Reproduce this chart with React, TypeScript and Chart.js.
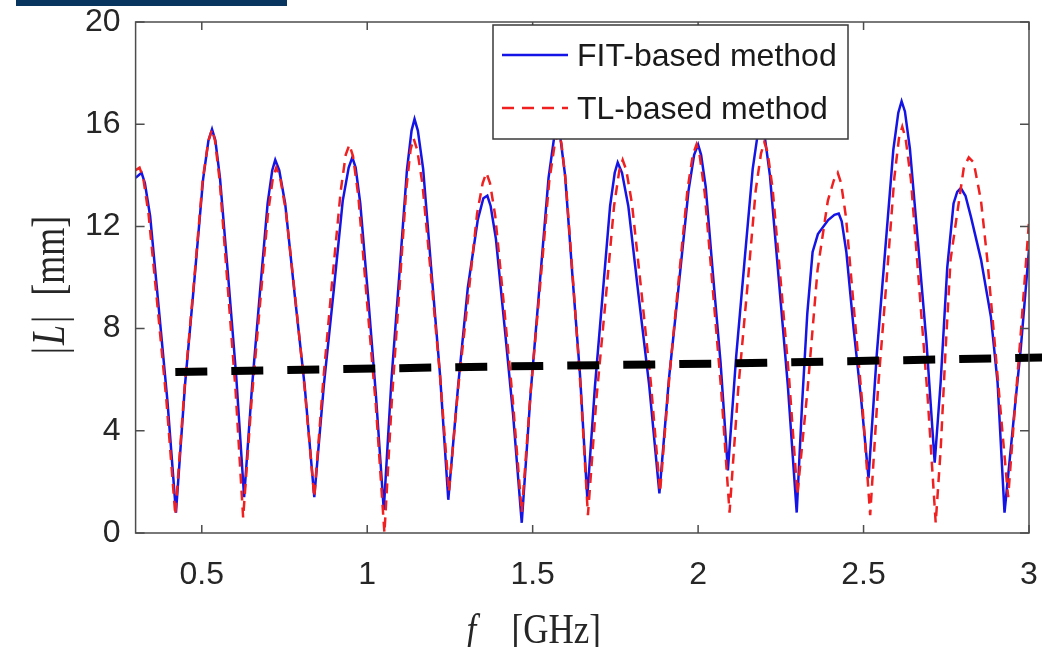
import React, { useEffect, useRef } from "react";
import { Chart, registerables } from "chart.js";

Chart.register(...registerables);

// ---------- data ----------
const fitFreq = [
  0.300, 0.318, 0.328, 0.344, 0.370, 0.396, 0.422, 0.449, 0.477, 0.504, 0.520, 0.531,
  0.541, 0.555, 0.580, 0.604, 0.628, 0.652, 0.675, 0.699, 0.713, 0.722,
  0.734, 0.752, 0.781, 0.811, 0.840, 0.869, 0.898, 0.926, 0.944, 0.955,
  0.965, 0.979, 1.003, 1.026, 1.050, 1.073, 1.097, 1.120, 1.134, 1.143,
  1.153, 1.169, 1.194, 1.220, 1.245, 1.275, 1.304, 1.334, 1.351, 1.363,
  1.373, 1.389, 1.415, 1.441, 1.467, 1.494, 1.521, 1.548, 1.564, 1.575,
  1.584, 1.598, 1.620, 1.643, 1.665, 1.688, 1.711, 1.734, 1.748, 1.757,
  1.770, 1.789, 1.820, 1.852, 1.883, 1.912, 1.942, 1.971, 1.988, 2.000,
  2.009, 2.023, 2.045, 2.068, 2.090, 2.115, 2.140, 2.165, 2.180, 2.190,
  2.201, 2.217, 2.244, 2.271, 2.298, 2.314, 2.330, 2.346, 2.362, 2.393, 2.412, 2.425,
  2.434, 2.448, 2.470, 2.493, 2.515, 2.540, 2.565, 2.590, 2.605, 2.615,
  2.625, 2.640, 2.665, 2.690, 2.715, 2.733, 2.753, 2.772, 2.783, 2.794,
  2.808, 2.824, 2.855, 2.885, 2.905, 2.926, 2.954, 2.975, 3.000,
];
const fitL = [
  13.9, 14.1, 13.7, 12.4, 8.8, 5.2, 0.8, 5.75, 9.8, 13.85, 15.35, 15.8,
  15.37, 13.9, 10.0, 6.15, 1.4, 5.75, 9.3, 12.9, 14.2, 14.6,
  14.2, 12.9, 9.3, 5.75, 1.4, 5.8, 9.4, 13.0, 14.3, 14.7,
  14.3, 12.9, 9.2, 5.45, 0.9, 5.95, 10.1, 14.2, 15.75, 16.2,
  15.75, 14.25, 10.25, 6.2, 1.3, 5.8, 9.6, 12.25, 13.1, 13.2,
  12.8, 11.5, 8.1, 4.6, 0.4, 5.5, 9.7, 13.9, 15.4, 15.9,
  15.45, 14.0, 10.1, 6.2, 1.4, 5.7, 9.25, 12.8, 14.1, 14.5,
  14.1, 12.8, 9.3, 5.8, 1.55, 6.05, 9.75, 13.4, 14.8, 15.2,
  14.8, 13.55, 10.1, 6.65, 2.45, 6.9, 10.6, 14.25, 15.6, 16.0,
  15.55, 14.0, 9.9, 5.8, 0.8, 5.0, 8.6, 11.0, 11.7, 12.25, 12.45, 12.5,
  12.2, 11.0, 8.0, 5.2, 2.15, 7.0, 11.0, 15.0, 16.45, 16.9,
  16.5, 15.05, 11.3, 7.5, 2.75, 5.9, 10.4, 12.9, 13.35, 13.5,
  13.2, 12.4, 10.7, 8.45, 5.9, 0.8, 4.5, 7.2, 11.1,
];

const tlFreq = [
  0.300, 0.312, 0.323, 0.339, 0.366, 0.393, 0.420, 0.448, 0.476, 0.503, 0.520, 0.531,
  0.540, 0.554, 0.578, 0.602, 0.625, 0.650, 0.675, 0.700, 0.715, 0.725,
  0.737, 0.754, 0.783, 0.811, 0.840, 0.867, 0.893, 0.920, 0.935, 0.946,
  0.957, 0.973, 0.999, 1.026, 1.052, 1.074, 1.096, 1.118, 1.131, 1.140,
  1.151, 1.167, 1.194, 1.220, 1.247, 1.275, 1.304, 1.332, 1.349, 1.360,
  1.371, 1.387, 1.414, 1.440, 1.467, 1.495, 1.523, 1.550, 1.567, 1.578,
  1.587, 1.600, 1.623, 1.645, 1.667, 1.693, 1.720, 1.746, 1.762, 1.772,
  1.783, 1.800, 1.829, 1.857, 1.885, 1.913, 1.940, 1.968, 1.984, 1.995,
  2.005, 2.020, 2.045, 2.070, 2.095, 2.121, 2.148, 2.174, 2.190, 2.200,
  2.210, 2.225, 2.250, 2.275, 2.300, 2.331, 2.361, 2.392, 2.410, 2.422,
  2.432, 2.447, 2.471, 2.496, 2.520, 2.544, 2.569, 2.593, 2.607, 2.617,
  2.627, 2.643, 2.668, 2.693, 2.718, 2.733, 2.748, 2.763, 2.784, 2.803, 2.818,
  2.833, 2.855, 2.874, 2.894, 2.916, 2.937, 2.955, 2.975, 3.000,
];
const tlL = [
  14.2, 14.3, 13.9, 12.5, 8.9, 5.2, 0.7, 5.7, 9.75, 13.85, 15.35, 15.8,
  15.35, 13.8, 9.7, 5.6, 0.6, 5.1, 8.8, 12.5, 13.9, 14.3,
  13.9, 12.6, 9.15, 5.65, 1.4, 5.95, 9.7, 13.4, 14.8, 15.2,
  14.75, 13.2, 9.1, 5.0, 0.0, 5.1, 9.3, 13.45, 15.0, 15.45,
  15.0, 13.65, 9.9, 6.15, 1.6, 5.7, 9.1, 12.5, 13.7, 14.1,
  13.7, 12.4, 8.8, 5.2, 0.8, 5.7, 9.75, 13.75, 15.25, 15.7,
  15.25, 13.75, 9.7, 5.65, 0.7, 5.3, 9.05, 12.8, 14.2, 14.6,
  14.2, 12.9, 9.4, 5.9, 1.6, 6.1, 9.75, 13.45, 14.8, 15.2,
  14.75, 13.3, 9.45, 5.55, 0.8, 5.6, 9.5, 13.4, 14.85, 15.3,
  14.9, 13.5, 9.8, 6.05, 1.5, 5.65, 10.3, 13.0, 13.8, 14.1,
  13.7, 12.35, 8.75, 5.1, 0.7, 5.7, 9.8, 13.9, 15.45, 15.9,
  15.45, 13.85, 9.65, 5.45, 0.4, 3.25, 7.2, 10.7, 12.6, 14.3, 14.7,
  14.5, 13.0, 10.7, 7.8, 4.5, 1.4, 4.5, 7.8, 12.2,
];

const refFreq = [0.42, 1.31, 2.16, 3.04];
const refL = [6.3, 6.5, 6.65, 6.87];

const xTicks = [0.5, 1, 1.5, 2, 2.5, 3];
const yTicks = [0, 4, 8, 12, 16, 20];
const seriesNames = ["FIT-based method", "TL-based method"];
const xTitleParts = ["f", "[GHz]"];
const yTitleParts = ["|", "L", "|", "[mm]"];

const BLUE = "#1414e6";
const RED = "#f02020";
const SANS = "'Liberation Sans', Arial, sans-serif";
const SERIF = "'Liberation Serif', 'DejaVu Serif', serif";

const toPts = (xs: number[], ys: number[]) => xs.map((x, i) => ({ x, y: ys[i] }));

const zeroPad = (axis: any) => {
  axis.paddingLeft = 0;
  axis.paddingRight = 0;
  axis.paddingTop = 0;
  axis.paddingBottom = 0;
};

const decorPlugin = {
  id: "decor",
  afterDatasetsDraw(chart: any) {
    const { ctx, chartArea: ca, scales } = chart;
    const xs = scales.x;
    const ys = scales.y;
    ctx.save();
    // frame
    ctx.strokeStyle = "#4d4d4d";
    ctx.lineWidth = 1.5;
    ctx.strokeRect(ca.left, ca.top, ca.right - ca.left, ca.bottom - ca.top);
    // inward ticks on all sides
    ctx.beginPath();
    for (const v of xTicks) {
      const px = xs.getPixelForValue(v);
      ctx.moveTo(px, ca.bottom);
      ctx.lineTo(px, ca.bottom - 8);
      ctx.moveTo(px, ca.top);
      ctx.lineTo(px, ca.top + 8);
    }
    for (const v of yTicks) {
      const py = ys.getPixelForValue(v);
      ctx.moveTo(ca.left, py);
      ctx.lineTo(ca.left + 9, py);
      ctx.moveTo(ca.right, py);
      ctx.lineTo(ca.right - 9, py);
    }
    ctx.stroke();

    // legend
    const lx = ca.right - 536;
    const ly = ca.top + 3;
    const lw = 355;
    const lh = 114;
    ctx.fillStyle = "#ffffff";
    ctx.fillRect(lx, ly, lw, lh);
    ctx.strokeStyle = "#3a3a3a";
    ctx.lineWidth = 1.5;
    ctx.strokeRect(lx, ly, lw, lh);
    const rows = [ly + 30, ly + 83];
    const colors = [BLUE, RED];
    for (let i = 0; i < 2; i++) {
      ctx.beginPath();
      ctx.strokeStyle = colors[i];
      ctx.lineWidth = 2.5;
      ctx.setLineDash(i === 1 ? [12, 8] : []);
      ctx.moveTo(lx + 9, rows[i]);
      ctx.lineTo(lx + 75, rows[i]);
      ctx.stroke();
      ctx.setLineDash([]);
      ctx.fillStyle = "#1a1a1a";
      ctx.font = `32px ${SANS}`;
      ctx.textBaseline = "middle";
      ctx.textAlign = "left";
      ctx.fillText(seriesNames[i], lx + 84, rows[i] + 2);
    }

    // x title: italic f + [GHz]
    ctx.fillStyle = "#262626";
    ctx.textBaseline = "alphabetic";
    ctx.textAlign = "left";
    ctx.save();
    ctx.translate(ca.left, 643);
    ctx.scale(1, 1.2);
    ctx.font = `italic 35px ${SERIF}`;
    ctx.fillText(xTitleParts[0], 331, 0);
    ctx.font = `35px ${SERIF}`;
    ctx.fillText(xTitleParts[1], 376, 0);
    ctx.restore();

    // y title: |L| [mm], rotated
    const yc = 285;
    ctx.save();
    ctx.translate(64, yc);
    ctx.rotate(-Math.PI / 2);
    ctx.scale(1, 1.3);
    const fonts = [`36px ${SERIF}`, `italic 36px ${SERIF}`, `36px ${SERIF}`, `36px ${SERIF}`];
    const gaps = [2, 2, 20, 0];
    let total = 0;
    const widths: number[] = [];
    for (let i = 0; i < yTitleParts.length; i++) {
      ctx.font = fonts[i];
      const w = ctx.measureText(yTitleParts[i]).width;
      widths.push(w);
      total += w + gaps[i];
    }
    let cx = -total / 2;
    for (let i = 0; i < yTitleParts.length; i++) {
      ctx.font = fonts[i];
      ctx.fillText(yTitleParts[i], cx, 0);
      cx += widths[i] + gaps[i];
    }
    ctx.restore();
    ctx.restore();
  },
};

export default function App() {
  const ref = useRef<HTMLCanvasElement | null>(null);
  useEffect(() => {
    if (!ref.current) return;
    const chart = new Chart(ref.current, {
      type: "line",
      data: {
        datasets: [
          {
            label: "reference",
            data: toPts(refFreq, refL),
            borderColor: "#000000",
            borderWidth: 8,
            borderDash: [32, 24],
            borderCapStyle: "butt",
            pointRadius: 0,
            tension: 0,
            clip: false as any,
            order: 1,
          },
          {
            label: seriesNames[1],
            data: toPts(tlFreq, tlL),
            borderColor: RED,
            borderWidth: 2.5,
            borderDash: [10, 7],
            pointRadius: 0,
            tension: 0,
            order: 2,
          },
          {
            label: seriesNames[0],
            data: toPts(fitFreq, fitL),
            borderColor: BLUE,
            borderWidth: 2.5,
            pointRadius: 0,
            tension: 0,
            order: 3,
          },
        ],
      },
      options: {
        animation: false,
        responsive: false,
        maintainAspectRatio: false,
        layout: { padding: { left: 0, right: 13, top: 22, bottom: 0 } },
        plugins: {
          legend: { display: false },
          tooltip: { enabled: false },
        },
        scales: {
          x: {
            type: "linear",
            min: 0.3,
            max: 3,
            grid: { display: false, drawTicks: false },
            border: { display: false },
            afterBuildTicks: (axis: any) => {
              axis.ticks = xTicks.map((v) => ({ value: v }));
            },
            afterFit: (axis: any) => {
              axis.height = 114;
              zeroPad(axis);
            },
            ticks: {
              padding: 23,
              maxRotation: 0,
              autoSkip: false,
              color: "#262626",
              font: { family: SANS, size: 32 },
              callback: (v: any) => String(v),
            },
          },
          y: {
            type: "linear",
            min: 0,
            max: 20,
            grid: { display: false, drawTicks: false },
            border: { display: false },
            afterBuildTicks: (axis: any) => {
              axis.ticks = yTicks.map((v) => ({ value: v }));
            },
            afterFit: (axis: any) => {
              axis.width = 135.6;
              zeroPad(axis);
            },
            ticks: {
              padding: 15,
              autoSkip: false,
              color: "#262626",
              font: { family: SANS, size: 32 },
              callback: (v: any) => String(v),
            },
          },
        },
      },
      plugins: [decorPlugin],
    });
    return () => chart.destroy();
  }, []);

  return (
    <div style={{ position: "absolute", left: 0, top: 0, width: 1042, height: 647, background: "#fff", overflow: "hidden" }}>
      <div style={{ position: "absolute", left: 16, top: 0, width: 271, height: 6, background: "#07355f" }} />
      <canvas ref={ref} width={1042} height={647} style={{ display: "block", width: 1042, height: 647 }} />
    </div>
  );
}
